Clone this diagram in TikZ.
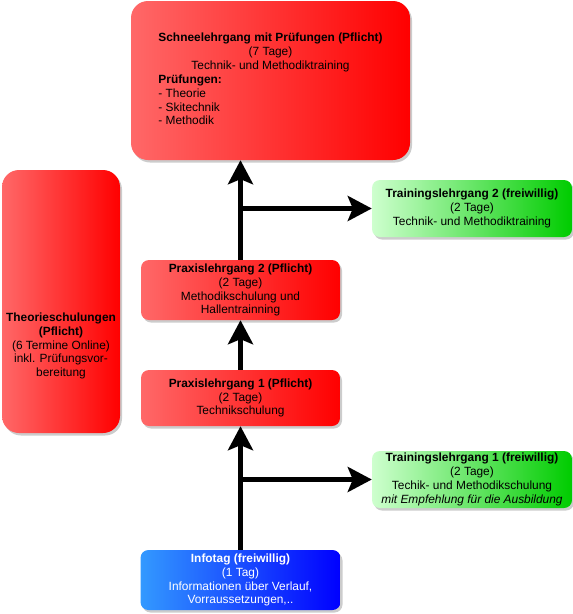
\documentclass[tikz,border=0pt]{standalone}
\usepackage{fontspec}
\setmainfont{Liberation Sans}
\usetikzlibrary{arrows.meta,shadows}
\definecolor{redlight}{RGB}{255,104,104}
\definecolor{redfull}{RGB}{255,0,0}
\definecolor{greenlight}{RGB}{206,255,206}
\definecolor{greenfull}{RGB}{0,204,0}
\definecolor{bluelight}{RGB}{51,153,255}
\definecolor{bluefull}{RGB}{0,0,255}

\begin{document}
\begin{tikzpicture}[
    x=1pt, y=-1pt,
    box/.style={
        rounded corners=8pt,
        inner sep=0pt,
        align=center,
        font=\fontsize{11.9}{13.9}\selectfont,
        drop shadow={shadow xshift=2pt, shadow yshift=-2.5pt,
                     fill=black, opacity=0.2}
    },
    redbox/.style={box, left color=redlight, right color=redfull},
    greenbox/.style={box, left color=greenlight, right color=greenfull,
                     minimum width=200, minimum height=57},
    bluebox/.style={box, left color=bluelight, right color=bluefull,
                    text=white},
    flow/.style={-{Stealth[length=24pt, width=25pt, inset=5pt]},
                 line width=5.5pt}
]
\useasboundingbox (0,0) rectangle (573,614);

% Pflicht-Bausteine
\node[redbox, rounded corners=17pt, minimum width=279, minimum height=159]
    (schnee) at (270.5,80.5)
    {\begin{tabular}{@{}l@{}}
     \multicolumn{1}{@{}c@{}}{\bfseries Schneelehrgang mit Prüfungen (Pflicht)}\\
     \multicolumn{1}{@{}c@{}}{(7 Tage)}\\
     \multicolumn{1}{@{}c@{}}{Technik- und Methodiktraining}\\
     \bfseries Prüfungen:\\
     - Theorie\\
     - Skitechnik\\
     - Methodik
     \end{tabular}};
\node[redbox, rounded corners=17pt, minimum width=118, minimum height=263]
    (theorie) at (61,301.5) {};
\node[align=center, font=\fontsize{11.9}{13.9}\selectfont, inner sep=0pt]
    (theorietext) at (61,346)
    {\textbf{Theorieschulungen}\\\textbf{(Pflicht)}\\(6 Termine Online)\\
     inkl. Prüfungsvor-\\bereitung};
\node[redbox, minimum width=199, minimum height=60] (praxis2) at (240.5,290)
    {\textbf{Praxislehrgang 2 (Pflicht)}\\(2 Tage)\\Methodikschulung und\\
     Hallentrainning};
\node[redbox, minimum width=199, minimum height=56] (praxis1) at (240.5,398)
    {\textbf{Praxislehrgang 1 (Pflicht)}\\(2 Tage)\\Technikschulung};

% freiwillige Bausteine
\node[greenbox] (training2) at (472,208.5)
    {\textbf{Trainingslehrgang 2 (freiwillig)}\\(2 Tage)\\
     Technik- und Methodiktraining};
\node[greenbox] (training1) at (472,479.5)
    {\textbf{Trainingslehrgang 1 (freiwillig)}\\(2 Tage)\\
     Techik- und Methodikschulung\\
     \textit{mit Empfehlung für die Ausbildung}};
\node[bluebox, minimum width=200, minimum height=60] (infotag) at (240.5,580)
    {\textbf{Infotag (freiwillig)}\\(1 Tag)\\Informationen über Verlauf,\\
     Vorraussetzungen,..};

% Ablauf
\draw[flow] (infotag.north) -- (praxis1.south);
\draw[flow] (infotag.north) |- (training1.west);
\draw[flow] (praxis1.north) -- (praxis2.south);
\draw[flow] (praxis2.north) -- (praxis2.north |- schnee.south);
\draw[flow] (praxis2.north) |- (training2.west);

\end{tikzpicture}
\end{document}
